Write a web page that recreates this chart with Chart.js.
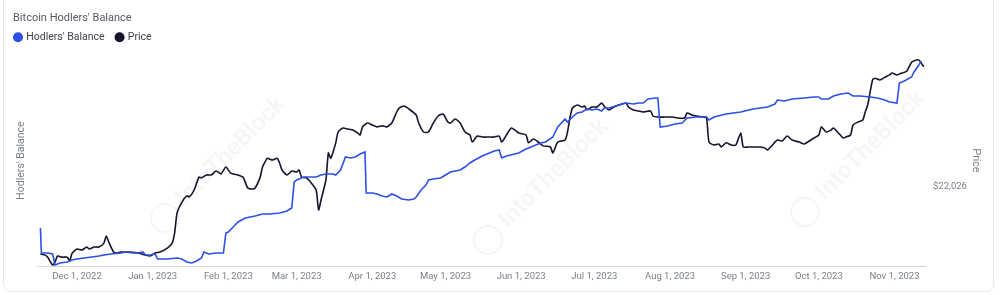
<!DOCTYPE html>
<html>
<head>
<meta charset="utf-8">
<script src="https://cdn.jsdelivr.net/npm/chart.js@4.4.0/dist/chart.umd.min.js"></script>
<style>
  html, body { margin: 0; padding: 0; background: #fff; }
  .card { position: absolute; left: 3px; top: -8px; width: 989px; height: 298px; border: 1px solid #e8e8ec; border-radius: 8px; }
  #c { position: absolute; left: 0; top: 0; }
</style>
</head>
<body>
<div class="card"></div>
<canvas id="c" width="1000" height="295"></canvas>
<script>
/* Bitcoin Hodlers' Balance vs Price, Nov 2022 - Nov 2023 (IntoTheBlock style) */
var BLUE = "#2d4fe3", INK = "#17122e", MUTED = "#7a7f8a";
var FONT = "Roboto, 'Noto Sans', sans-serif";

// x positions are days since Dec 1, 2022
var monthTicks = [0, 31, 62, 90, 121, 151, 182, 212, 243, 274, 304, 335];
var monthLabels = ["Dec 1, 2022", "Jan 1, 2023", "Feb 1, 2023", "Mar 1, 2023", "Apr 1, 2023", "May 1, 2023",
                   "Jun 1, 2023", "Jul 1, 2023", "Aug 1, 2023", "Sep 1, 2023", "Oct 1, 2023", "Nov 1, 2023"];

// Price (USD)
var priceDays = [-15, -13, -12, -10, -9, -8, -6, -4, -3, -2, 0, 2, 4, 5, 7, 9, 11, 12, 13, 15, 16, 18, 20, 22, 25, 28, 30,
  32, 34, 37, 39, 40, 41, 43, 45, 46, 48, 50, 51, 53, 55, 57, 59, 61, 63, 66, 68, 70, 72, 73, 75, 76, 77, 78, 80, 82,
  83, 84, 86, 88, 90, 91, 92, 94, 96, 98, 99, 100, 102, 103, 104, 106, 107, 109, 111, 113, 115, 116, 117, 119, 121,
  123, 125, 127, 129, 131, 132, 134, 136, 139, 140, 142, 144, 146, 148, 150, 152, 153, 155, 157, 159, 161, 162, 164,
  166, 169, 171, 173, 174, 175, 178, 181, 184, 185, 187, 189, 191, 194, 195, 197, 200, 201, 202, 203, 205, 207, 208,
  209, 211, 213, 215, 216, 218, 220, 222, 225, 226, 228, 230, 232, 235, 236, 238, 241, 244, 246, 249, 250, 252, 254,
  257, 258, 259, 261, 263, 264, 266, 268, 270, 272, 273, 275, 278, 280, 282, 283, 285, 287, 289, 291, 293, 296, 298,
  302, 304, 305, 307, 309, 310, 312, 314, 315, 317, 318, 320, 322, 323, 324, 326, 327, 329, 331, 333, 334, 336, 338,
  340, 342, 344, 345, 347];
var priceVals = [16330, 16260, 16120, 15600, 15800, 16200, 16120, 16120, 15870, 16400, 16680, 16610, 16820, 16680, 16820,
  16820, 17100, 17620, 17180, 16470, 16400, 16470, 16470, 16470, 16400, 16260, 16200, 16400, 16470, 16750, 17100, 17840,
  19400, 20310, 20840, 20750, 21360, 22560, 22470, 22750, 22750, 23130, 22850, 23520, 22930, 22750, 22560, 21540, 21450,
  21540, 22500, 23500, 24000, 24400, 24220, 24400, 23920, 23230, 22750, 23130, 23030, 23230, 22560, 22470, 22000, 21360,
  19650, 20490, 22280, 24950, 24400, 26000, 27240, 27700, 27580, 27470, 27130, 26900, 27830, 28280, 28050, 27830, 27950,
  27830, 28280, 29620, 30120, 30370, 30000, 29250, 28280, 27240, 27240, 28280, 29130, 29370, 28400, 28280, 28760, 28280,
  27240, 26900, 26120, 26780, 26670, 26670, 26670, 26780, 26120, 26450, 27700, 27130, 26900, 26030, 26450, 26120, 25700,
  25580, 24950, 26120, 26340, 27240, 28890, 30120, 30500, 30250, 30370, 29870, 30250, 30250, 30750, 30370, 29870, 30250,
  30500, 30750, 30250, 29870, 29750, 29620, 29750, 29130, 29000, 29000, 29000, 28890, 28890, 29500, 29250, 29130, 29000,
  28900, 26100, 25800, 25900, 25580, 26030, 25800, 25800, 27130, 25580, 25580, 25580, 25580, 25460, 25260, 25800, 26340,
  26230, 26780, 26340, 26120, 25910, 26560, 26900, 27830, 27240, 27470, 27700, 27130, 26560, 26670, 26900, 28050, 28400,
  28650, 29620, 30500, 33880, 34120, 33880, 34250, 34600, 34870, 34600, 34870, 35150, 36500, 36840, 36840, 35800];

// Hodlers' balance (million BTC)
var balanceDays = [-15, -14.6, -12, -10, -9, -7, -4, -2, 0, 3, 6, 9, 11, 14, 18, 20, 23, 25, 27, 28, 30, 32, 33, 35, 37,
  41, 43, 45, 47, 49, 51, 52, 54, 57, 60, 61, 62, 64, 66, 69, 73, 76, 79, 83, 86, 88, 89, 90, 93, 95, 98, 100, 102, 105,
  106, 108, 110, 112, 114, 116, 118, 118.5, 121, 123, 125, 127, 129, 131, 133, 136, 138, 139, 141, 143, 144, 146, 149,
  151, 153, 157, 159, 161, 163, 166, 169, 171, 173, 174, 176, 181, 184, 186, 190, 192, 195, 197, 200, 201, 203, 205, 207,
  209, 211, 213, 215, 216, 218, 222, 225, 228, 230, 232, 234, 237, 238, 239, 242, 245, 248, 250, 254, 258, 259, 261, 266,
  272, 277, 283, 286, 287, 290, 293, 298, 302, 304, 305, 308, 310, 313, 316, 318, 321, 325, 328, 331, 333, 336, 337, 339,
  342, 343, 345, 346];
var balanceVals = [13.190, 13.065, 13.065, 13.060, 13.005, 13.015, 13.020, 13.030, 13.035, 13.040, 13.045, 13.050, 13.055,
  13.060, 13.065, 13.070, 13.065, 13.065, 13.070, 13.055, 13.055, 13.060, 13.035, 13.035, 13.035, 13.040, 13.035, 13.020,
  13.015, 13.025, 13.040, 13.070, 13.060, 13.065, 13.065, 13.165, 13.170, 13.195, 13.220, 13.240, 13.250, 13.260, 13.260,
  13.265, 13.275, 13.290, 13.420, 13.430, 13.445, 13.445, 13.445, 13.455, 13.460, 13.460, 13.455, 13.480, 13.545, 13.540,
  13.545, 13.560, 13.570, 13.365, 13.365, 13.360, 13.350, 13.345, 13.360, 13.350, 13.335, 13.330, 13.335, 13.345, 13.380,
  13.405, 13.430, 13.435, 13.440, 13.455, 13.470, 13.480, 13.495, 13.515, 13.530, 13.550, 13.565, 13.575, 13.580, 13.540,
  13.550, 13.565, 13.585, 13.595, 13.615, 13.620, 13.645, 13.695, 13.735, 13.720, 13.745, 13.765, 13.770, 13.785, 13.780,
  13.785, 13.775, 13.790, 13.790, 13.805, 13.815, 13.810, 13.815, 13.815, 13.835, 13.840, 13.840, 13.695, 13.700, 13.710,
  13.715, 13.740, 13.745, 13.745, 13.730, 13.745, 13.760, 13.770, 13.785, 13.795, 13.810, 13.830, 13.825, 13.835, 13.840,
  13.845, 13.845, 13.835, 13.835, 13.850, 13.860, 13.865, 13.850, 13.850, 13.845, 13.840, 13.830, 13.820, 13.815, 13.915,
  13.925, 13.945, 13.970, 14.005, 14.025];

function pts(xs, ys) { return xs.map(function (x, i) { return { x: x, y: ys[i] }; }); }

// faint watermark + chart title, drawn on the canvas
var decor = {
  id: "decor",
  beforeDatasetsDraw: function (chart) {
    var ctx = chart.ctx;
    [[165, 218], [488, 240], [805, 212]].forEach(function (p) {
      ctx.save();
      ctx.translate(p[0], p[1]);
      ctx.rotate(-Math.PI / 4);
      ctx.globalAlpha = 0.05;
      ctx.strokeStyle = "#555"; ctx.lineWidth = 2;
      ctx.beginPath(); ctx.arc(0, 0, 14, 0, Math.PI * 2); ctx.stroke();
      ctx.fillStyle = "#555";
      ctx.font = "600 24px " + FONT;
      ctx.textBaseline = "middle";
      ctx.fillText("IntoTheBlock", 22, 0);
      ctx.restore();
    });
  },
  afterDraw: function (chart) {
    var ctx = chart.ctx;
    ctx.save();
    ctx.fillStyle = "#555a64";
    ctx.font = "11px " + FONT;
    ctx.textBaseline = "middle";
    ctx.fillText("Bitcoin Hodlers' Balance", 13, 18);
    ctx.restore();
  }
};

new Chart(document.getElementById("c"), {
  type: "line",
  data: {
    datasets: [
      { label: "Hodlers' Balance", data: pts(balanceDays, balanceVals), xAxisID: "x", yAxisID: "yBal",
        borderColor: BLUE, backgroundColor: BLUE, borderWidth: 1.6, pointRadius: 0, tension: 0 },
      { label: "Price", data: pts(priceDays, priceVals), xAxisID: "x", yAxisID: "yPrice",
        borderColor: INK, backgroundColor: INK, borderWidth: 1.6, pointRadius: 0, tension: 0.2 }
    ]
  },
  plugins: [decor],
  options: {
    responsive: false, animation: false,
    layout: { padding: { left: 3, top: 20, right: 0, bottom: 0 } },
    plugins: {
      title: { display: false },
      tooltip: { enabled: false },
      legend: {
        display: true, align: "start",
        labels: { usePointStyle: true, pointStyle: "circle", boxWidth: 6, boxHeight: 6, padding: 12,
                  color: "#3f434c", font: { family: FONT, size: 10.5 } }
      }
    },
    scales: {
      x: {
        type: "linear", min: -16.4, max: 347.5,
        grid: { display: false, drawTicks: false },
        border: { color: "#d4d6db" },
        afterBuildTicks: function (s) { s.ticks = monthTicks.map(function (v) { return { value: v }; }); },
        afterFit: function (s) { s.height = 29; },
        ticks: { padding: 5, maxRotation: 0, autoSkip: false, color: MUTED, font: { family: FONT, size: 9.5 },
                 callback: function (v) { return monthLabels[monthTicks.indexOf(v)]; } }
      },
      spacer: {
        type: "linear", position: "top", display: true,
        grid: { display: false, drawTicks: false }, border: { display: false }, ticks: { display: false },
        afterFit: function (s) { s.height = 2.5; }
      },
      yBal: {
        position: "left", min: 13.0, max: 14.055,
        grid: { display: false, drawTicks: false }, border: { display: false },
        ticks: { display: false },
        afterFit: function (s) { s.width = 34; },
        title: { display: true, text: "Hodlers' Balance", color: MUTED, font: { family: FONT, size: 10.5 }, padding: { top: 12, bottom: 0 } }
      },
      yPrice: {
        type: "logarithmic", position: "right", min: 15535, max: 37614,
        grid: { display: false, drawTicks: false }, border: { display: false },
        afterBuildTicks: function (s) { s.ticks = [{ value: 22026 }]; },
        afterFit: function (s) { s.width = 75; },
        ticks: { padding: 8, labelOffset: 4, color: MUTED, font: { family: FONT, size: 9.5 },
                 callback: function (v) { return "$" + Math.round(v).toLocaleString("en-US"); } },
        title: { display: true, text: "Price", color: MUTED, font: { family: FONT, size: 10.5 }, padding: { top: 18, bottom: 0 } }
      }
    }
  }
});
</script>
</body>
</html>
